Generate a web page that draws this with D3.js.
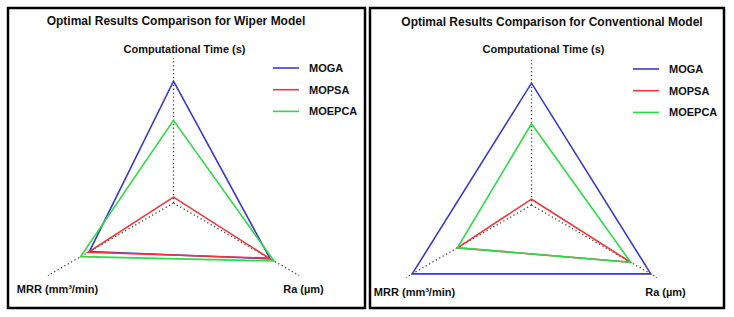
<!DOCTYPE html>
<html>
<head>
<meta charset="utf-8">
<script src="https://cdn.jsdelivr.net/npm/d3@7"></script>
<style>
  body { margin: 0; background: #fff; }
  text { font-family: "Liberation Sans", Arial, sans-serif; font-weight: bold; fill: #111; }
  .axis-line { stroke: #444; stroke-width: 1.3; stroke-dasharray: 1.3 2.6; }
  .frame { fill: none; stroke: #000; stroke-width: 2.5; }
</style>
</head>
<body>
<div id="wrapper"></div>
<script>
// 1. Data

const axisNames = ["Computational Time (s)", "Ra (\u00b5m)", "MRR (mm\u00b3/min)"]
const methods = ["MOGA", "MOPSA", "MOEPCA"]
const methodColors = ["#3b3bc6", "#f2373c", "#2bdc45"]

// values per method, in axis order [time, Ra, MRR], relative to axis length
const wiperValues = [
  [0.84, 0.77, 0.67],
  [0.04, 0.76, 0.68],
  [0.57, 0.80, 0.74],
]
const conventionalValues = [
  [0.84, 0.95, 0.95],
  [0.04, 0.79, 0.59],
  [0.56, 0.79, 0.59],
]
const panelTitles = [
  "Optimal Results Comparison for Wiper Model",
  "Optimal Results Comparison for Conventional Model",
]

// 2. Dimensions

const dimensions = { width: 734, height: 317, radius: 145 }
const panels = [
  { title: panelTitles[0], values: wiperValues,
    frame: [8, 8, 357, 300], cx: 173.5, cy: 203, titleX: 176, titleY: 25,
    legendX: 273, legendY: 68, labelOffsets: [[11, -150], [130, 90], [-116, 90]] },
  { title: panelTitles[1], values: conventionalValues,
    frame: [370, 8, 354, 300], cx: 531.5, cy: 205, titleX: 552, titleY: 26,
    legendX: 633, legendY: 69, labelOffsets: [[12, -152], [134, 91], [-117, 91]] },
]

// 3. Draw canvas

const wrapper = d3.select("#wrapper")
  .append("svg")
    .attr("width", dimensions.width)
    .attr("height", dimensions.height)

// 4. Scales

const rScale = d3.scaleLinear()
  .domain([0, 1])
  .range([0, dimensions.radius])

// axis angle, clockwise from 12 o'clock
const angleOf = i => i * 2 * Math.PI / axisNames.length

const colorScale = d3.scaleOrdinal()
  .domain(methods)
  .range(methodColors)

const lineGenerator = d3.lineRadial()
  .angle((d, i) => angleOf(i))
  .radius(d => rScale(d))
  .curve(d3.curveLinearClosed)

// 5. Draw panels

panels.forEach(panel => {
  const [fx, fy, fw, fh] = panel.frame
  wrapper.append("rect")
      .attr("class", "frame")
      .attr("x", fx)
      .attr("y", fy)
      .attr("width", fw)
      .attr("height", fh)

  wrapper.append("text")
      .attr("x", panel.titleX)
      .attr("y", panel.titleY)
      .attr("text-anchor", "middle")
      .style("font-size", "12px")
      .text(panel.title)

  const bounds = wrapper.append("g")
      .attr("transform", `translate(${panel.cx}, ${panel.cy})`)

  // dotted axes
  bounds.selectAll(".axis-line")
      .data(axisNames)
    .enter().append("line")
      .attr("class", "axis-line")
      .attr("x1", 0)
      .attr("y1", 0)
      .attr("x2", (d, i) => rScale(1) * Math.sin(angleOf(i)))
      .attr("y2", (d, i) => -rScale(1) * Math.cos(angleOf(i)))

  bounds.selectAll(".axis-label")
      .data(axisNames)
    .enter().append("text")
      .attr("class", "axis-label")
      .attr("x", (d, i) => panel.labelOffsets[i][0])
      .attr("y", (d, i) => panel.labelOffsets[i][1])
      .attr("text-anchor", "middle")
      .style("font-size", "11px")
      .text(d => d)

  bounds.selectAll(".series")
      .data(panel.values)
    .enter().append("path")
      .attr("class", "series")
      .attr("d", d => lineGenerator(d))
      .attr("fill", "none")
      .attr("stroke", (d, i) => colorScale(methods[i]))
      .attr("stroke-width", 1.6)
      .attr("stroke-linejoin", "miter")

  // legend
  const legend = wrapper.append("g")
      .attr("transform", `translate(${panel.legendX}, ${panel.legendY})`)
  const items = legend.selectAll(".legend-item")
      .data(methods)
    .enter().append("g")
      .attr("transform", (d, i) => `translate(0, ${i * 21.7})`)
  items.append("line")
      .attr("x1", 0)
      .attr("x2", 26)
      .attr("stroke", d => colorScale(d))
      .attr("stroke-width", 1.6)
  items.append("text")
      .attr("x", 36)
      .attr("y", 4)
      .style("font-size", "11px")
      .text(d => d)
})
</script>
</body>
</html>
